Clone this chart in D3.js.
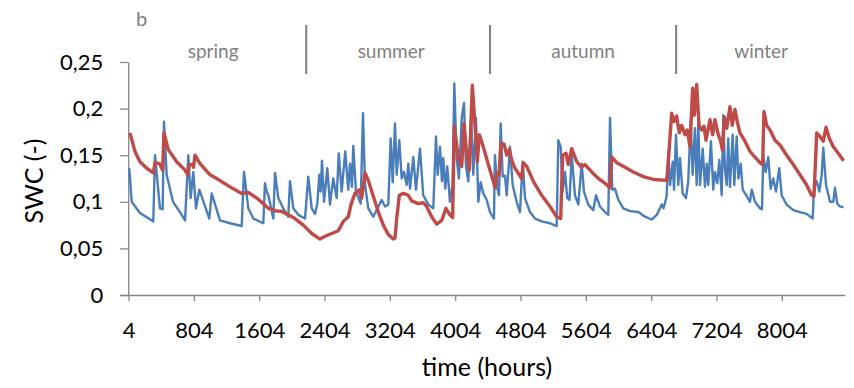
<!DOCTYPE html>
<html>
<head>
<meta charset="utf-8">
<script src="https://cdn.jsdelivr.net/npm/d3@7"></script>
<style>
  body { margin: 0; background: #fff; }
  svg { font-family: Lato, "Liberation Sans", Arial, sans-serif; }
  .axis path, .axis line { stroke: #868686; }
  .axis text { fill: #000; font-size: 22px; font-family: Lato, "Liberation Sans", sans-serif; }
</style>
</head>
<body>
<div id="chart"></div>
<script>
const w = 854; //Width
const h = 388; //Height

// tick values and labels
const xTicks = [4, 804, 1604, 2404, 3204, 4004, 4804, 5604, 6404, 7204, 8004];
const yTicks = [0, 0.05, 0.1, 0.15, 0.2, 0.25];
const yTickLabels = ["0", "0,05", "0,1", "0,15", "0,2", "0,25"];

// seasons (hour of boundaries, label position)
const seasonNames = ["spring", "summer", "autumn", "winter"];
const seasonLabelHours = [1040, 3220, 5570, 7750];
const seasonBounds = [2180, 4430, 6710];

// blue series [hour, SWC]
const swcBlue = [
  [13, 0.136], [43, 0.100], [144, 0.088], [307, 0.079], [328, 0.150], [389, 0.093],
  [422, 0.092], [438, 0.186], [471, 0.129], [549, 0.100], [634, 0.089], [696, 0.080],
  [736, 0.150], [765, 0.104], [797, 0.132], [830, 0.093], [871, 0.113], [993, 0.082],
  [1022, 0.109], [1124, 0.080], [1247, 0.077], [1390, 0.074], [1418, 0.132], [1471, 0.093],
  [1532, 0.082], [1654, 0.077], [1675, 0.120], [1696, 0.111], [1716, 0.107], [1777, 0.082],
  [1798, 0.131], [1838, 0.104], [1899, 0.093], [1960, 0.084], [1981, 0.122], [2022, 0.093],
  [2083, 0.086], [2165, 0.082], [2205, 0.127], [2247, 0.093], [2287, 0.087], [2316, 0.098],
  [2340, 0.129], [2357, 0.111], [2373, 0.144], [2398, 0.100], [2438, 0.136], [2471, 0.097],
  [2511, 0.125], [2553, 0.104], [2578, 0.152], [2614, 0.111], [2658, 0.154], [2695, 0.113],
  [2716, 0.141], [2740, 0.116], [2756, 0.160], [2789, 0.111], [2847, 0.098], [2875, 0.195],
  [2900, 0.118], [2940, 0.093], [3001, 0.084], [3047, 0.092], [3104, 0.102], [3145, 0.095],
  [3185, 0.097], [3214, 0.168], [3239, 0.121], [3267, 0.184], [3288, 0.129], [3320, 0.166],
  [3349, 0.125], [3377, 0.132], [3410, 0.118], [3430, 0.141], [3451, 0.114], [3491, 0.148],
  [3524, 0.113], [3573, 0.157], [3613, 0.107], [3675, 0.097], [3736, 0.093], [3769, 0.170],
  [3790, 0.129], [3818, 0.159], [3842, 0.122], [3858, 0.147], [3883, 0.114], [3907, 0.138],
  [3940, 0.100], [3973, 0.118], [3993, 0.227], [4022, 0.147], [4050, 0.125], [4084, 0.190],
  [4112, 0.206], [4136, 0.138], [4165, 0.122], [4198, 0.191], [4226, 0.129], [4259, 0.190],
  [4287, 0.100], [4316, 0.121], [4348, 0.109], [4390, 0.102], [4430, 0.089], [4479, 0.082],
  [4491, 0.150], [4520, 0.114], [4541, 0.107], [4561, 0.184], [4586, 0.127], [4614, 0.128],
  [4635, 0.107], [4675, 0.159], [4708, 0.118], [4757, 0.100], [4798, 0.089], [4831, 0.143],
  [4859, 0.104], [4920, 0.089], [4981, 0.082], [5063, 0.079], [5165, 0.077], [5247, 0.074],
  [5267, 0.166], [5296, 0.159], [5320, 0.111], [5348, 0.132], [5377, 0.104], [5404, 0.102],
  [5431, 0.150], [5471, 0.107], [5512, 0.097], [5553, 0.141], [5581, 0.111], [5634, 0.097],
  [5695, 0.091], [5728, 0.107], [5777, 0.095], [5838, 0.089], [5879, 0.086], [5900, 0.190],
  [5928, 0.113], [5961, 0.114], [6002, 0.102], [6063, 0.093], [6145, 0.090], [6246, 0.089],
  [6328, 0.084], [6410, 0.081], [6472, 0.086], [6512, 0.093], [6533, 0.097], [6555, 0.093],
  [6594, 0.106], [6614, 0.154], [6635, 0.118], [6668, 0.143], [6684, 0.113], [6708, 0.172],
  [6736, 0.118], [6757, 0.147], [6790, 0.109], [6830, 0.104], [6858, 0.122], [6888, 0.186],
  [6912, 0.129], [6940, 0.179], [6961, 0.118], [6981, 0.184], [7002, 0.118], [7035, 0.157],
  [7063, 0.116], [7084, 0.141], [7103, 0.118], [7136, 0.165], [7164, 0.113], [7185, 0.132],
  [7214, 0.120], [7238, 0.145], [7268, 0.107], [7287, 0.193], [7307, 0.136], [7329, 0.118],
  [7348, 0.168], [7369, 0.116], [7402, 0.172], [7422, 0.118], [7451, 0.170], [7471, 0.125],
  [7500, 0.141], [7525, 0.113], [7574, 0.106], [7614, 0.100], [7635, 0.113], [7675, 0.100],
  [7736, 0.093], [7761, 0.092], [7777, 0.150], [7806, 0.132], [7838, 0.148], [7867, 0.114],
  [7899, 0.125], [7932, 0.111], [7973, 0.136], [8002, 0.107], [8063, 0.097], [8144, 0.091],
  [8226, 0.089], [8308, 0.087], [8382, 0.082], [8398, 0.115], [8431, 0.122], [8463, 0.111],
  [8492, 0.129], [8512, 0.158], [8545, 0.118], [8594, 0.100], [8634, 0.100], [8655, 0.115],
  [8683, 0.098], [8716, 0.095], [8760, 0.094]
];

// red series [hour, SWC]
const swcRed = [
  [22, 0.174], [83, 0.154], [144, 0.143], [227, 0.136], [307, 0.131], [328, 0.142],
  [383, 0.141], [422, 0.134], [438, 0.174], [491, 0.156], [594, 0.143], [696, 0.134],
  [729, 0.129], [748, 0.140], [790, 0.140], [800, 0.137], [818, 0.150], [879, 0.141],
  [1002, 0.129], [1084, 0.125], [1247, 0.116], [1390, 0.109], [1471, 0.110], [1574, 0.104],
  [1654, 0.098], [1716, 0.093], [1818, 0.090], [1871, 0.090], [1960, 0.086], [2042, 0.082],
  [2144, 0.075], [2247, 0.066], [2349, 0.060], [2410, 0.063], [2492, 0.066], [2573, 0.069],
  [2634, 0.079], [2695, 0.084], [2728, 0.097], [2777, 0.109], [2830, 0.113], [2859, 0.104],
  [2900, 0.131], [2940, 0.123], [3001, 0.106], [3063, 0.089], [3124, 0.075], [3185, 0.065],
  [3246, 0.060], [3267, 0.061], [3288, 0.082], [3320, 0.107], [3369, 0.109], [3430, 0.107],
  [3471, 0.101], [3552, 0.098], [3613, 0.099], [3655, 0.095], [3716, 0.084], [3778, 0.076],
  [3839, 0.080], [3891, 0.093], [3940, 0.086], [3973, 0.083], [3993, 0.181], [4042, 0.147],
  [4084, 0.138], [4112, 0.184], [4145, 0.150], [4177, 0.134], [4214, 0.225], [4247, 0.182],
  [4275, 0.143], [4300, 0.172], [4348, 0.159], [4410, 0.140], [4471, 0.122], [4491, 0.115],
  [4520, 0.131], [4541, 0.129], [4565, 0.163], [4602, 0.162], [4635, 0.150], [4667, 0.156],
  [4696, 0.145], [4736, 0.136], [4789, 0.129], [4816, 0.125], [4838, 0.142], [4880, 0.138],
  [4961, 0.122], [5063, 0.107], [5165, 0.095], [5247, 0.084], [5296, 0.082], [5320, 0.150],
  [5361, 0.152], [5389, 0.140], [5431, 0.157], [5492, 0.143], [5553, 0.137], [5594, 0.140],
  [5676, 0.132], [5757, 0.125], [5838, 0.120], [5900, 0.115], [5921, 0.148], [5982, 0.142],
  [6084, 0.137], [6185, 0.132], [6308, 0.127], [6430, 0.124], [6594, 0.123], [6614, 0.143],
  [6655, 0.195], [6684, 0.186], [6716, 0.192], [6748, 0.174], [6778, 0.182], [6818, 0.172],
  [6846, 0.177], [6879, 0.159], [6912, 0.222], [6932, 0.193], [6961, 0.226], [6990, 0.182],
  [7022, 0.177], [7051, 0.181], [7075, 0.166], [7124, 0.188], [7157, 0.172], [7185, 0.188],
  [7226, 0.172], [7255, 0.165], [7277, 0.155], [7301, 0.191], [7329, 0.179], [7369, 0.202],
  [7397, 0.182], [7430, 0.199], [7458, 0.186], [7491, 0.174], [7553, 0.165], [7614, 0.154],
  [7675, 0.148], [7736, 0.142], [7769, 0.140], [7785, 0.197], [7818, 0.182], [7859, 0.177],
  [7920, 0.166], [7981, 0.161], [8063, 0.150], [8144, 0.140], [8226, 0.129], [8308, 0.118],
  [8369, 0.107], [8398, 0.106], [8431, 0.174], [8471, 0.170], [8512, 0.165], [8545, 0.180],
  [8586, 0.168], [8634, 0.159], [8695, 0.152], [8760, 0.144]
];

const svg = d3.select("#chart")
              .append("svg")
              .attr("width", w)
              .attr("height", h);

const xScale = d3.scaleLinear()
                 .domain([0, 8780])
                 .range([128.2, 845.2]);

const yScale = d3.scaleLinear()
                 .domain([0, 0.25])
                 .range([295, 62]);

//Define X axis
const xAxis = d3.axisBottom()
                .scale(xScale)
                .tickValues(xTicks)
                .tickFormat(d3.format("d"))
                .tickSizeInner(6)
                .tickSizeOuter(0)
                .tickPadding(21);

//Define Y axis
const yAxis = d3.axisLeft()
                .scale(yScale)
                .tickValues(yTicks)
                .tickFormat((d, i) => yTickLabels[i])
                .tickSizeInner(8)
                .tickSizeOuter(0)
                .tickPadding(17);

//Create X axis
const gx = svg.append("g")
  .attr("class", "axis x-axis")
  .attr("transform", "translate(0," + yScale(0) + ")")
  .call(xAxis);
gx.select(".domain").attr("d", "M" + (xScale(0) - 8) + ",0.5H" + xScale(8780));
gx.selectAll("path, line").attr("stroke-width", 1.3);

//Create Y axis
const gy = svg.append("g")
  .attr("class", "axis y-axis")
  .attr("transform", "translate(" + xScale(0) + ",0)")
  .call(yAxis);
gy.selectAll("path, line").attr("stroke-width", 1.3);

const line = d3.line()
               .x(d => xScale(d[0]))
               .y(d => yScale(d[1]));

svg.append("path")
  .datum(swcBlue)
  .attr("fill", "none")
  .attr("stroke", "#4a7ebb")
  .attr("stroke-width", 2.4)
  .attr("stroke-linejoin", "round")
  .attr("d", line);

svg.append("path")
  .datum(swcRed)
  .attr("fill", "none")
  .attr("stroke", "#be4b48")
  .attr("stroke-width", 3.4)
  .attr("stroke-linejoin", "round")
  .attr("d", line);

// season dividers and names
svg.selectAll(".season-line")
  .data(seasonBounds)
  .enter()
  .append("line")
  .attr("x1", d => xScale(d))
  .attr("x2", d => xScale(d))
  .attr("y1", 25)
  .attr("y2", 74)
  .attr("stroke", "#7f7f7f")
  .attr("stroke-width", 2);

svg.selectAll(".season-name")
  .data(seasonNames)
  .enter()
  .append("text")
  .attr("x", (d, i) => xScale(seasonLabelHours[i]))
  .attr("y", 58)
  .attr("text-anchor", "middle")
  .attr("fill", "#7f7f7f")
  .style("font-size", "19px")
  .text(d => d);

svg.append("text")
  .attr("x", 136)
  .attr("y", 26)
  .attr("fill", "#7f7f7f")
  .style("font-size", "20px")
  .text("b");

// axis titles
svg.append("text")
  .attr("x", 487)
  .attr("y", 376)
  .attr("text-anchor", "middle")
  .style("font-size", "25px")
  .text("time (hours)");

svg.append("text")
  .attr("transform", "translate(43,181) rotate(-90)")
  .attr("text-anchor", "middle")
  .style("font-size", "25px")
  .text("SWC (-)");
</script>
</body>
</html>
